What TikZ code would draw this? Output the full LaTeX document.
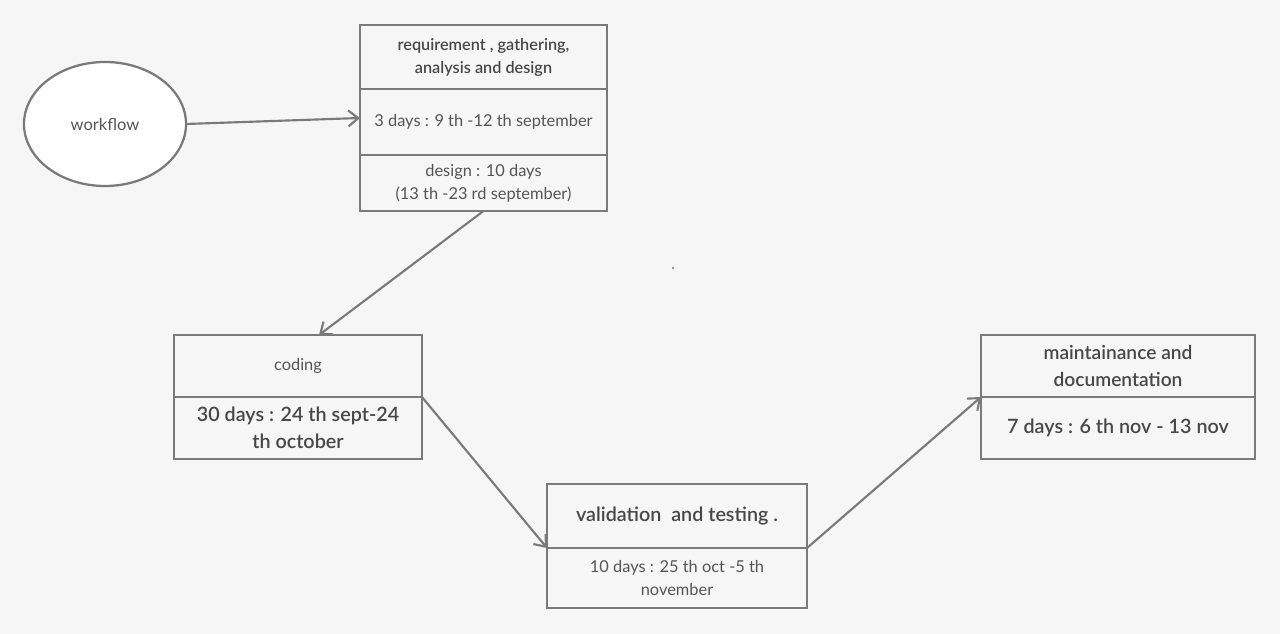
\documentclass[tikz,border=0pt]{standalone}
\usepackage{fontspec}
\setmainfont{Lato}
\newfontfamily\semi{Lato Semibold}
\usetikzlibrary{arrows.meta,shapes.geometric,calc}
\definecolor{bgc}{HTML}{F6F6F6}
\definecolor{linec}{HTML}{7A7A7A}
\definecolor{txtc}{HTML}{555555}
\definecolor{txtd}{HTML}{474747}
\tikzset{
  comp/.style={draw=linec,line width=1.7pt,fill=bgc,inner sep=0pt,outer sep=0pt,
    align=center,text=txtc},
  flow/.style={draw=linec,line width=1.6pt,-{Straight Barb[length=7.5pt,width=12pt,line width=1.6pt]}},
  tsmall/.style={font=\fontsize{12.3pt}{17.25pt}\selectfont},
  tbig/.style={font=\fontsize{14.8pt}{20.25pt}\selectfont\semi,text=txtd},
}
\begin{document}
\begin{tikzpicture}[x=0.75pt,y=-0.75pt]
\fill[bgc] (0,0) rectangle (1280,634);
\useasboundingbox (0,0) rectangle (1280,634);

% workflow ellipse
\node[ellipse,draw=linec,line width=1.7pt,fill=white,minimum width=121.5pt,minimum height=93pt,
  inner sep=0pt,outer sep=0pt,text=txtc,font=\fontsize{12.4pt}{15pt}\selectfont] (wf) at (105,124) {workflow};

% box 1
\node[comp,minimum width=185.25pt,minimum height=48pt,font=\fontsize{12.2pt}{17.25pt}\selectfont\semi,text=txtd] (b1top) at (483.5,57)
  {requirement , gathering,\\analysis and design};
\node[comp,minimum width=185.25pt,minimum height=49.5pt,tsmall] (b1mid) at (483.5,122)
  {3 days : 9 th -12 th september};
\node[comp,minimum width=185.25pt,minimum height=42pt,tsmall] (b1bot) at (483.5,183)
  {design : 10 days\\(13 th -23 rd september)};

% coding
\node[comp,minimum width=186pt,minimum height=46.5pt,tsmall] (codtop) at (298,366) {coding};
\node[comp,minimum width=186pt,minimum height=46.5pt,tbig] (codbot) at (298,428)
  {30 days : 24 th sept-24\\th october};

% validation
\node[comp,minimum width=195pt,minimum height=48pt,tbig] (valtop) at (677,516)
  {validation\ \ and testing .};
\node[comp,minimum width=195pt,minimum height=45pt,tsmall] (valbot) at (677,578)
  {10 days : 25 th oct -5 th\\november};

% maintainance
\node[comp,minimum width=205.5pt,minimum height=46.5pt,font=\fontsize{14.4pt}{20.25pt}\selectfont\semi,text=txtd] (mttop) at (1118,366)
  {maintainance and\\documentation};
\node[comp,minimum width=205.5pt,minimum height=46.5pt,tbig] (mtbot) at (1118,428)
  {7 days : 6 th nov - 13 nov};

% stray dot
\fill[linec] (673,268) circle (0.9pt);

% connectors
\draw[flow] (wf.east) -- ($(b1mid.west)+(0,-4)$);
\draw[flow] (b1bot.south) -- ($(codtop.north)+(21,0)$);
\draw[flow] (codtop.south east) -- (valtop.south west);
\draw[flow] (valtop.south east) -- (mttop.south west);
\end{tikzpicture}
\end{document}
